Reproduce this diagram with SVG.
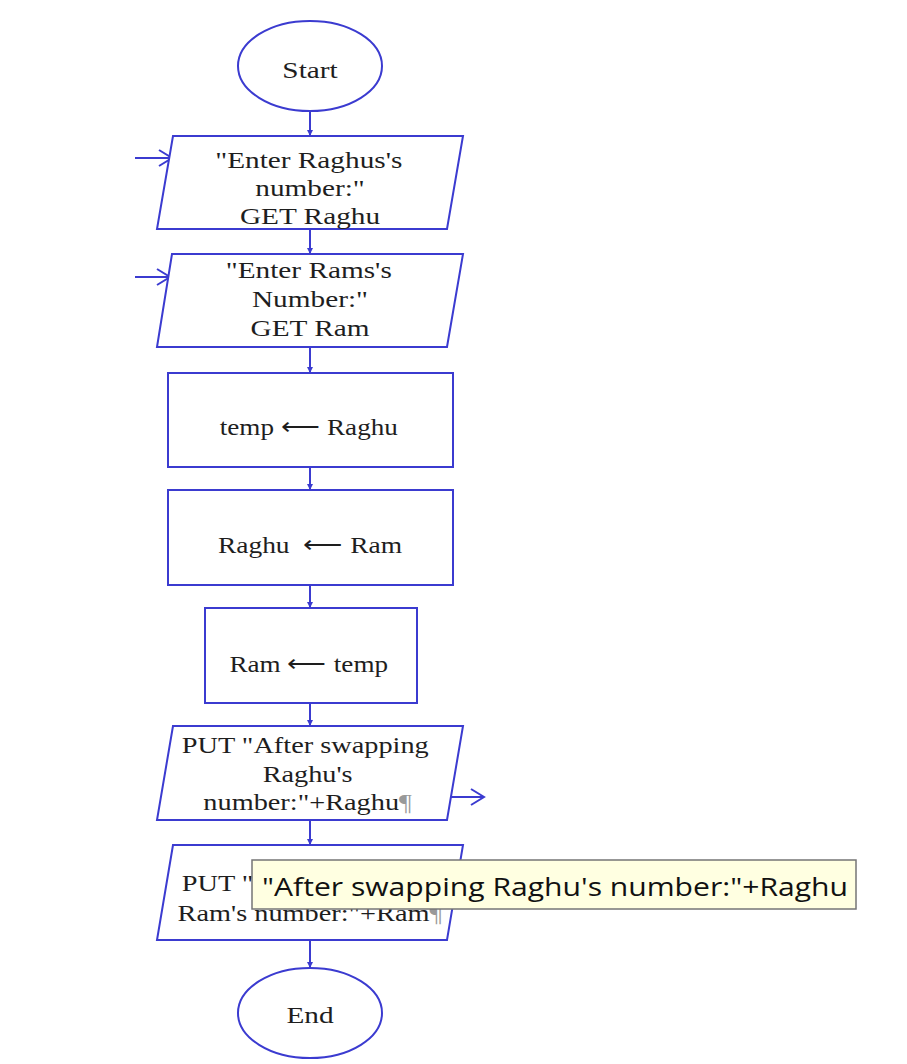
<svg xmlns="http://www.w3.org/2000/svg" width="907" height="1064" viewBox="0 0 907 1064">
<style>
.s{fill:#fff;stroke:#3b3bd0;stroke-width:2}
.c{fill:none;stroke:#3b3bd0;stroke-width:2}
.t{font-family:"Liberation Serif","Times New Roman",serif;font-size:24px;fill:#1e1e1e;text-anchor:middle}
.tip{font-family:"Open Sans","Noto Sans",sans-serif;font-size:26px;fill:#111}
</style>
<defs>
<marker id="dot" markerWidth="6" markerHeight="6" refX="5" refY="3" orient="auto" markerUnits="userSpaceOnUse">
<path d="M0,0 L6,3 L0,6 Z" fill="#3b3bd0"/>
</marker>
<marker id="open" markerWidth="16" markerHeight="18" refX="14" refY="9" orient="auto" markerUnits="userSpaceOnUse">
<path d="M1,1 L14,9 L1,17" fill="none" stroke="#3b3bd0" stroke-width="2"/>
</marker>
</defs>
<rect width="907" height="1064" fill="#fff"/>
<g id="connectors">
<line class="c" x1="310" y1="111" x2="310" y2="135" marker-end="url(#dot)"/>
<line class="c" x1="310" y1="229" x2="310" y2="253" marker-end="url(#dot)"/>
<line class="c" x1="310" y1="347" x2="310" y2="372" marker-end="url(#dot)"/>
<line class="c" x1="310" y1="467" x2="310" y2="489" marker-end="url(#dot)"/>
<line class="c" x1="310" y1="585" x2="310" y2="607" marker-end="url(#dot)"/>
<line class="c" x1="310" y1="703" x2="310" y2="725" marker-end="url(#dot)"/>
<line class="c" x1="310" y1="820" x2="310" y2="844" marker-end="url(#dot)"/>
<line class="c" x1="310" y1="940" x2="310" y2="967" marker-end="url(#dot)"/>
<line class="c" x1="135" y1="158" x2="172" y2="158" marker-end="url(#open)"/>
<line class="c" x1="135" y1="277" x2="170" y2="277" marker-end="url(#open)"/>
<line class="c" x1="450" y1="797" x2="484" y2="797" marker-end="url(#open)"/>
<line class="c" x1="450" y1="888" x2="486" y2="888" marker-end="url(#open)"/>
</g>
<g id="start">
<ellipse class="s" cx="310" cy="66" rx="72" ry="45"/>
<g transform="matrix(1.22,0,0,1,-68.2,0)"><text class="t" x="310" y="78">Start</text></g>
</g>
<g id="input1">
<polygon class="s" points="173,136 463,136 447,229 157,229"/>
<g transform="matrix(1.22,0,0,1,-68.2,0)">
<text class="t" x="309" y="168">"Enter Raghus's</text>
<text class="t" x="310" y="196">number:"</text>
<text class="t" x="310" y="224">GET Raghu</text>
</g>
</g>
<g id="input2">
<polygon class="s" points="172,254 463,254 447,347 157,347"/>
<g transform="matrix(1.22,0,0,1,-68.2,0)">
<text class="t" x="309" y="278">"Enter Rams's</text>
<text class="t" x="310" y="307">Number:"</text>
<text class="t" x="310" y="336">GET Ram</text>
</g>
</g>
<g id="assign1">
<rect class="s" x="168" y="373" width="285" height="94"/>
<g transform="matrix(1.22,0,0,1,-68.2,0)"><text class="t" x="309" y="435" textLength="146" lengthAdjust="spacingAndGlyphs">temp ⟵ Raghu</text></g>
</g>
<g id="assign2">
<rect class="s" x="168" y="490" width="285" height="95"/>
<g transform="matrix(1.22,0,0,1,-68.2,0)"><text class="t" x="310" y="553" textLength="151" lengthAdjust="spacingAndGlyphs">Raghu &#160;⟵ Ram</text></g>
</g>
<g id="assign3">
<rect class="s" x="205" y="608" width="212" height="95"/>
<g transform="matrix(1.22,0,0,1,-68.2,0)"><text class="t" x="309" y="672" textLength="130" lengthAdjust="spacingAndGlyphs">Ram ⟵ temp</text></g>
</g>
<g id="output1">
<polygon class="s" points="173,726 463,726 447,820 157,820"/>
<g transform="matrix(1.18,0,0,1,-55.8,0)">
<text class="t" x="306" y="753">PUT "After swapping</text>
<text class="t" x="308" y="782">Raghu's</text>
<text class="t" x="308" y="810">number:"+Raghu<tspan fill="#999">¶</tspan></text>
</g>
</g>
<g id="output2">
<polygon class="s" points="173,845 463,845 447,940 157,940"/>
<g transform="matrix(1.18,0,0,1,-55.8,0)">
<text class="t" x="306" y="891">PUT "After swapping</text>
<text class="t" x="310" y="921">Ram's number:"+Ram<tspan fill="#999">¶</tspan></text>
</g>
</g>
<g id="tooltip">
<rect x="252" y="860" width="604" height="49" fill="#ffffe1" stroke="#767676" stroke-width="1.5"/>
<text class="tip" x="262" y="896" textLength="586" lengthAdjust="spacingAndGlyphs">"After swapping Raghu's number:"+Raghu</text>
</g>
<g id="end">
<ellipse class="s" cx="310" cy="1013" rx="72" ry="45"/>
<g transform="matrix(1.22,0,0,1,-68.2,0)"><text class="t" x="310" y="1023">End</text></g>
</g>
</svg>
